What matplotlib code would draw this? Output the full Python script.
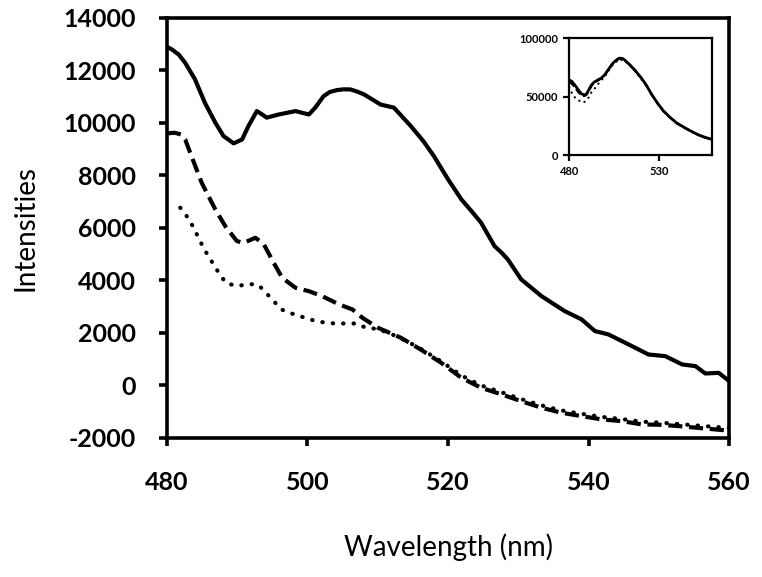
"""Emission spectra, three samples, with inset of the full-scale spectrum.
"""
import matplotlib
matplotlib.use('Agg')
import matplotlib.pyplot as plt

plt.rcParams['font.family'] = ['Lato', 'DejaVu Sans']
plt.rcParams['axes.unicode_minus'] = False

# solid curve
wl_solid = [480, 480.7, 481.7, 482.6, 484, 485.4, 486.9, 488.05, 489.5, 490.7,
            491.6, 492.8, 493.5, 494.2, 495.9, 498.3, 500.2, 501.1, 502.3, 503.2,
            504.2, 505.2, 506.1, 507, 508.05, 510.4, 512.3, 514.7, 516.5, 518,
            520, 521.9, 523.3, 524.7, 526.6, 527.6, 528.5, 530.4, 533.3, 536.6,
            539, 540.9, 542.8, 545.7, 548.5, 550.9, 553.3, 555.2, 556.6, 558.5,
            560]
int_solid = [12900, 12800, 12600, 12290, 11660, 10770, 10005, 9500, 9220, 9370,
             9880, 10450, 10330, 10200, 10320, 10450, 10320, 10580, 11020, 11180,
             11250, 11280, 11275, 11200, 11085, 10700, 10580, 9880, 9300, 8730,
             7850, 7085, 6650, 6200, 5310, 5060, 4800, 4040, 3400, 2830,
             2515, 2070, 1945, 1560, 1180, 1115, 800, 735, 455, 480,
             165]

# dashed curve
wl_dash = [480, 481.1, 482, 482.6, 483.5, 484.95, 486.9, 488.3, 489.95, 490.9,
           492.6, 493.8, 495.2, 496.4, 498.3, 500.2, 502.1, 504.5, 506.4, 507.8,
           510, 513.3, 516.1, 519, 521.9, 524.7, 527.6, 530.4, 533.3, 536.1,
           539, 541.9, 544.7, 547.6, 550.4, 553.3, 556.1, 559, 560]
int_dash = [9600, 9625, 9560, 9370, 8735, 7720, 6700, 6070, 5500, 5430,
            5625, 5370, 4670, 4100, 3720, 3590, 3400, 3085, 2895, 2580,
            2200, 1815, 1370, 865, 290, -90, -340, -600, -850, -1040,
            -1170, -1295, -1360, -1485, -1500, -1560, -1630, -1700, -1720]

# dotted curve
wl_dot = [481.9, 483, 483.8, 484.5, 485.2, 485.9, 486.8, 487.6, 488.5, 490.1,
          491.6, 493.05, 494.1, 495.2, 496.3, 497.7, 499.2, 500.7, 502.1, 503.8,
          506.9, 508.3, 510, 512, 514, 516.1, 519, 521.9, 524.7, 527.6,
          530.4, 533.3, 536.1, 539, 541.9, 544.7, 547.6, 550.4, 553.3, 556.1,
          559, 560]
int_dot = [6770, 6385, 6010, 5625, 5245, 4925, 4545, 4190, 3885, 3785,
           3870, 3820, 3530, 3210, 2895, 2745, 2615, 2490, 2410, 2360,
           2360, 2200, 2150, 1950, 1700, 1400, 920, 380, 0, -260,
           -520, -760, -950, -1080, -1200, -1280, -1380, -1420, -1480, -1540,
           -1600, -1620]

# inset
wl_in = [480, 481.5, 483.1, 485, 486.9, 488.5, 489.6, 491, 492.4, 494,
         496.1, 498, 499.8, 502, 504.4, 506.5, 508.1, 510, 511.9, 514,
         516.5, 520, 523, 526, 529.4, 532.5, 535.9, 540, 545.2, 549,
         552.6, 556, 560]
int_in_solid = [64300, 63000, 60000, 56000, 52300, 51500, 52300, 56000, 60000, 62500,
                64300, 66000, 68600, 73500, 78600, 81500, 82900, 82500, 80000, 77000,
                72900, 66500, 60000, 52000, 44300, 38000, 32900, 27500, 22900, 19800,
                17100, 15200, 13400]
int_in_dash = [62500, 61000, 58000, 54000, 51000, 50500, 51500, 55000, 59000, 62000,
               64000, 65800, 68400, 73300, 78400, 81300, 82700, 82300, 79800, 76800,
               72700, 66300, 59800, 51800, 44100, 37800, 32700, 27300, 22700, 19600,
               16900, 15000, 13200]
wl_in_dot = [480, 482.2, 485, 488.1, 490.6, 492.5, 494.8, 497, 500, 504.4,
             508.1, 511.9, 516.5, 523, 529.4, 535.9, 545.2, 552.6, 560]
int_in_dot = [58000, 50600, 47000, 44900, 48600, 54000, 58000, 62500, 67500, 77500,
              82000, 79500, 72500, 59500, 44000, 32500, 22500, 16800, 13200]

fig = plt.figure(figsize=(7.62, 5.77), dpi=100)
ax = fig.add_axes([0.219, 0.241, 0.738, 0.728])

ax.plot(wl_solid, int_solid, color='black', lw=3.0, solid_joinstyle='round')
ax.plot(wl_dash, int_dash, color='black', lw=3.0, dashes=(3.4, 1.6), dash_capstyle='butt')
ax.plot(wl_dot, int_dot, color='black', lw=3.0, dashes=(0.1, 2.4), dash_capstyle='round')

ax.set_xlim(480, 560)
ax.set_ylim(-2000, 14000)
ax.set_xticks([480, 500, 520, 540, 560])
ax.set_yticks(range(-2000, 14001, 2000))
for s in ax.spines.values():
    s.set_linewidth(2.6)
ax.tick_params(direction='out', length=6, width=2.6, labelsize=18, pad=16)
ax.tick_params(axis='x', pad=18)
for lab in ax.get_xticklabels() + ax.get_yticklabels():
    lab.set_fontweight('bold')
ax.set_xlabel('Wavelength (nm)', fontsize=20, labelpad=28)
ax.set_ylabel('Intensities', fontsize=20, labelpad=18)

# inset
axi = fig.add_axes([0.747, 0.731, 0.188, 0.203])
axi.plot(wl_in, int_in_solid, color='black', lw=2.0)
axi.plot(wl_in, int_in_dash, color='black', lw=1.6, dashes=(3, 1.5))
axi.plot(wl_in_dot, int_in_dot, color='black', lw=1.6, dashes=(0.1, 2.5), dash_capstyle='round')
axi.set_xlim(480, 560)
axi.set_ylim(0, 100000)
axi.set_xticks([480, 530])
axi.set_yticks([0, 50000, 100000])
for s in axi.spines.values():
    s.set_linewidth(1.6)
axi.tick_params(direction='out', length=4, width=1.6, labelsize=8, pad=4)
for lab in axi.get_xticklabels() + axi.get_yticklabels():
    lab.set_fontweight('bold')

fig.savefig('out.png', dpi=100)
